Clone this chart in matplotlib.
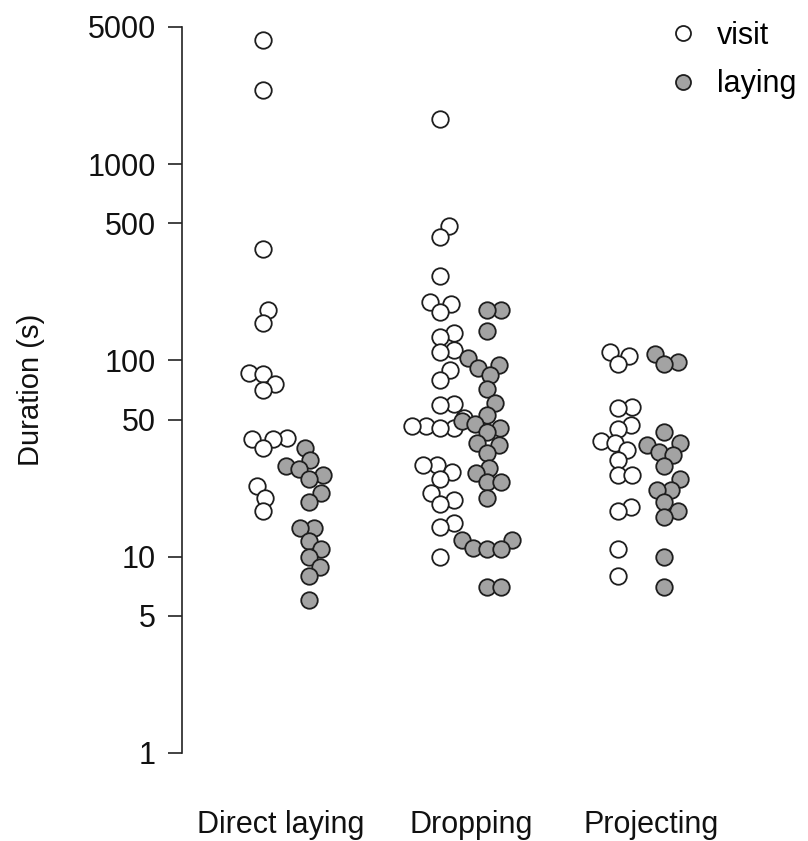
import matplotlib
matplotlib.use('Agg')
import matplotlib.pyplot as plt
from matplotlib.lines import Line2D
import numpy as np

# Data (durations in seconds)
categories = ['Direct laying', 'Dropping', 'Projecting']

direct_visit = [4300, 2400, 370, 180, 155, 86, 85, 76, 71, 40.5, 40, 40, 36, 23, 20, 17]
direct_laying = [36, 31, 29, 28, 26, 25, 21, 19, 14, 14, 12, 11, 10, 8.9, 8, 6]

dropping_visit = [1700, 484, 425, 269, 198, 195, 177, 138, 132, 113, 110, 89.5, 79.5,
                  60, 59, 51, 46.5, 46.5, 45.5, 45.3, 29.3, 29.3, 27, 25, 21, 19.4,
                  18.5, 14.8, 14.2, 10]
dropping_laying = [181, 180, 141, 103, 95, 91.5, 84, 71.5, 60.5, 52.7, 49, 47.4, 45.3,
                   43.2, 38, 37, 33.8, 28.3, 26.7, 24, 24, 20, 12.2, 12.2, 11.1, 11,
                   11, 7, 7]

projecting_visit = [110, 105, 96, 58, 57, 47, 45, 39, 38, 35, 31, 26, 26, 18, 17, 11, 8]
projecting_laying = [108, 98, 96, 43, 38, 37, 34, 33, 29, 25, 22, 22, 19, 17, 16, 10, 7]

visit_groups = [direct_visit, dropping_visit, projecting_visit]
laying_groups = [direct_laying, dropping_laying, projecting_laying]

yticks = [1, 5, 10, 50, 100, 500, 1000, 5000]

plt.rcParams['font.family'] = ['Liberation Sans', 'DejaVu Sans']
FS = 22

fig = plt.figure(figsize=(8.08, 8.41), dpi=100)
ax = fig.add_axes([182 / 808, 88 / 841, 608 / 808, 726 / 841])
ax.set_yscale('log')
ax.set_ylim(1, 5000)
ax.set_xlim(0.414, 3.839)


def swarm(values, xcenter, d=14.0):
    # simple beeswarm: ascending order, closest free spot to the centre (pixels)
    pts = ax.transData.transform(np.column_stack([np.full(len(values), xcenter), values]))
    ypx = pts[:, 1]
    x0 = pts[0, 0]
    order = np.argsort(ypx, kind='stable')
    xs = np.zeros(len(values))
    placed = []
    for i in order:
        cands = [0.0]
        for xj, yj in placed:
            dy = ypx[i] - yj
            if abs(dy) < d:
                dx = np.sqrt(d * d - dy * dy)
                cands += [xj - dx, xj + dx]
        ok = [c for c in cands
              if all((c - xj) ** 2 + (ypx[i] - yj) ** 2 >= d * d - 1e-6 for xj, yj in placed)]
        best = min(ok, key=lambda c: (abs(c), -c))
        xs[i] = best
        placed.append((best, ypx[i]))
    back = ax.transData.inverted().transform(np.column_stack([x0 + xs, ypx]))
    return back[:, 0]


ms = (16.5 * 0.72) ** 2
grey = '#a3a3a3'
edge = '#1e1e1e'
for k in range(len(categories)):
    pos = k + 1
    xv = swarm(visit_groups[k], pos - 0.132)
    ax.scatter(xv, visit_groups[k], s=ms, facecolor='white', edgecolor=edge,
               linewidth=1.3, zorder=3, clip_on=False)
    xl = swarm(laying_groups[k], pos + 0.132)
    ax.scatter(xl, laying_groups[k], s=ms, facecolor=grey, edgecolor=edge,
               linewidth=1.3, zorder=3, clip_on=False)

# axes styling
for side in ['top', 'right', 'bottom']:
    ax.spines[side].set_visible(False)
ax.spines['left'].set_linewidth(1.2)
ax.spines['left'].set_color('#222222')
ax.set_yticks(yticks)
ax.set_yticklabels([str(t) for t in yticks], fontsize=FS, color='#111111')
ax.yaxis.set_minor_locator(matplotlib.ticker.NullLocator())
ax.tick_params(axis='y', length=10, width=1.2, color='#222222', pad=9)
ax.set_xticks([])
ax.set_ylabel('Duration (s)', fontsize=21, color='#111111')
ax.yaxis.set_label_coords(-0.225, 0.5)

# category labels
label_px = [281, 472, 652]
for name, px in zip(categories, label_px):
    xd = 1 + (px - 286.5) / 177.5
    ax.text(xd, -0.099, name, transform=ax.get_xaxis_transform(), ha='center', va='center',
            fontsize=FS, color='#111111')

handles = [Line2D([], [], marker='o', linestyle='none', markersize=10.8, markerfacecolor='white',
                  markeredgecolor=edge, markeredgewidth=1.3, label='visit'),
           Line2D([], [], marker='o', linestyle='none', markersize=10.8, markerfacecolor=grey,
                  markeredgecolor=edge, markeredgewidth=1.3, label='laying')]
fig.legend(handles=handles, loc='upper left', bbox_to_anchor=(665 / 808, 1 - 21 / 841),
           frameon=False, fontsize=FS, handletextpad=0.5, labelspacing=0.6,
           borderaxespad=0, borderpad=0, handlelength=1.2)

fig.savefig('out.png', dpi=100)
